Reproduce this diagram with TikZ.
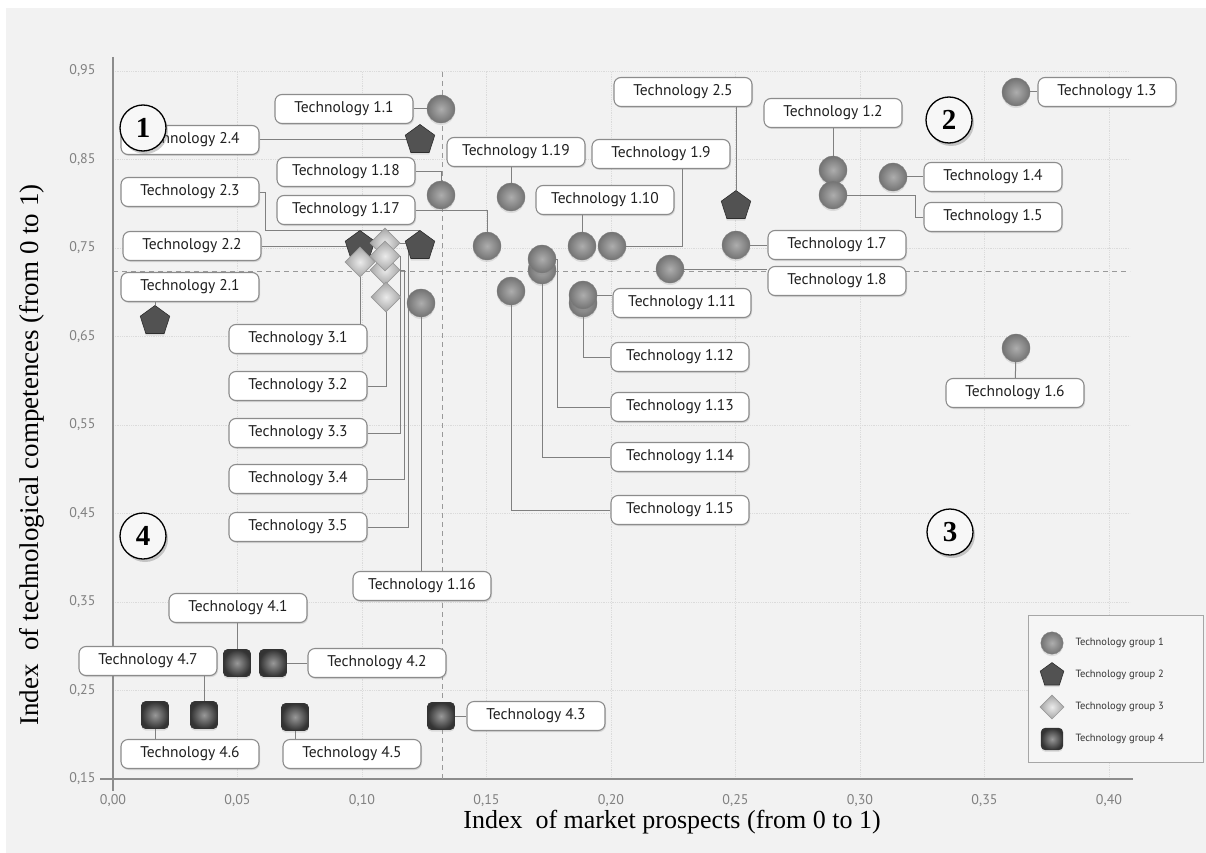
\documentclass[tikz,border=0pt]{standalone}
\usepackage{fontspec}
\setmainfont{Liberation Serif}
\newfontfamily\labelfont{PT Sans}
\usetikzlibrary{shapes.geometric,shadows,calc}
\pgfdeclarelayer{back}
\pgfdeclarelayer{wires}
\pgfsetlayers{back,wires,main}

\begin{document}
\begin{tikzpicture}[x=1pt,y=-1pt,
  tech/.style={draw=black!45,line width=1.1pt,fill=white,rounded corners=7pt,
    minimum width=138pt,minimum height=29pt,inner sep=0pt,text=black!88,
    font=\labelfont\fontsize{15.5}{15.5}\selectfont,
    drop shadow={opacity=.25,shadow xshift=1pt,shadow yshift=-1.5pt}},
  gA/.style={circle,minimum size=28pt,inner sep=0pt,inner color=black!32,
    outer color=black!55,draw=black!50,line width=.3pt,
    drop shadow={opacity=.2,shadow xshift=0pt,shadow yshift=-2pt}},
  gB/.style={regular polygon,regular polygon sides=5,minimum size=31pt,inner sep=0pt,
    fill=black!68,draw=black!82,line width=.6pt,
    drop shadow={opacity=.2,shadow xshift=0pt,shadow yshift=-2pt}},
  gC/.style={diamond,minimum size=30pt,inner sep=0pt,inner color=black!8,
    outer color=black!35,draw=black!40,line width=.6pt},
  gD/.style={rectangle,rounded corners=4pt,minimum size=27pt,inner sep=0pt,
    inner color=black!40,outer color=black!80,draw=black!80,line width=.6pt,
    drop shadow={opacity=.2,shadow xshift=0pt,shadow yshift=-2pt}},
  wire/.style={draw=black!50,line width=1pt},
  grid/.style={black!14,line width=.8pt,densely dotted},
  tick/.style={text=black!50,font=\labelfont\fontsize{14}{14}\selectfont},
  quad/.style={circle,draw,line width=1.3pt,fill=white!97!black,minimum size=46pt,
    inner sep=0pt,font=\bfseries\fontsize{29}{29}\selectfont,
    drop shadow={opacity=.4,shadow xshift=2pt,shadow yshift=-3pt}}]
 \useasboundingbox (0,0) rectangle (1206,853);
 \begin{pgfonlayer}{back}
 \fill[white] (0,0) rectangle (1206,853);
 \fill[black!5] (6,8) rectangle (1206,853);
 \foreach \k in {1,...,8}{
  \draw[grid] (113+124.5*\k,72)--(113+124.5*\k,779);
  \draw[grid] (113,779-88.5*\k)--(1130,779-88.5*\k);
 }
 \draw[black!45,line width=1.5pt] (113,57)--(113,791);
 \draw[black!45,line width=1.5pt] (100,779)--(1133,779);
 \draw[black!40,line width=1pt,dash pattern=on 5pt off 4pt] (442,72)--(442,779);
 \draw[black!40,line width=1pt,dash pattern=on 5pt off 4pt] (113,271)--(1130,271);
 \end{pgfonlayer}
 % axis numbers
 \foreach \k/\t in {0/{0,15},1/{0,25},2/{0,35},3/{0,45},4/{0,55},5/{0,65},6/{0,75},7/{0,85},8/{0,95}}
  \node[tick,anchor=east] (yl\k) at (99,779-88.5*\k) {\t};
 \foreach \k/\t in {0/{0,00},1/{0,05},2/{0,10},3/{0,15},4/{0,20},5/{0,25},6/{0,30},7/{0,35},8/{0,40}}
  \node[tick] (xl\k) at (113+124.5*\k,801) {\t};
 \node[font=\fontsize{26}{26}\selectfont] (xt) at (672,822)
   {Index\ \ of market prospects (from 0 to 1)};
 \node[font=\fontsize{27}{27}\selectfont,rotate=90] (yt) at (32,455)
   {Index\ \ of technological competences (from 0 to 1)};
 % labels
 \foreach \g/\n/\x/\y in {1/1/344/109,1/2/833/113,1/3/1107/92,1/4/993/177,1/5/993/217,
   1/6/1015/393,1/7/837/245,1/8/837/281,1/9/661/154,1/10/605/200,1/11/682/303,
   1/12/680/357,1/13/680/407,1/14/680/457,1/15/680/510,1/16/422/586,1/17/346/210,
   1/18/346/172,1/19/516/152,2/1/190/287,2/2/192/246,2/3/190/192,2/4/190/140,
   2/5/683/92,3/1/298/339,3/2/298/386,3/3/298/433,3/4/298/479,3/5/298/527,
   4/1/238/608,4/2/377/663,4/3/536/716,4/5/352/754,4/6/190/754,4/7/148/661}
  \node[tech] (b\g-\n) at (\x,\y) {Technology \g.\n};
 % markers
 \foreach \n/\x/\y in {1/441/109,2/833/170,3/1016/92,4/893/177,5/833/195,6/1016/348,
   7/736/245,8/670/269,9/612/246,10/582/246,12/583/303,11/583/295,14/542/270,
   13/542/259,15/511/291,16/421/303,17/487/246,18/441/195,19/511/197}
  \node[gA] (c1-\n) at (\x,\y) {};
 \foreach \n/\x/\y in {1/155/321,2/360/246,3/420/246,4/420/140,5/736/206}
  \node[gB] (p2-\n) at (\x,\y) {};
 \foreach \n/\x/\y in {5/385/243,4/385/270,3/385/256,1/360/262,2/386/297}
  \node[gC] (d3-\n) at (\x,\y) {};
 \foreach \n/\x/\y in {1/237/663,2/273/663,3/441/716,5/295/717,6/155/715,7/204/715}
  \node[gD] (s4-\n) at (\x,\y) {};
 \begin{pgfonlayer}{wires}
 \draw[wire] (b1-1)--(c1-1);
 \draw[wire] (b1-2)--(c1-2);
 \draw[wire] (c1-3)--(b1-3);
 \draw[wire] (c1-4)--(b1-4);
 \draw[wire] (c1-5)--++(82,0)|-(b1-5.west);
 \draw[wire] (c1-6)--(b1-6);
 \draw[wire] (c1-7)--(b1-7);
 \draw[wire] (c1-8)--(c1-8-|b1-8.west);
 \draw[wire] ([xshift=21pt]b1-9.south)|-(c1-9);
 \draw[wire] (b1-10.south-|c1-10)--(c1-10);
 \draw[wire] (c1-11)--(c1-11-|b1-11.west);
 \draw[wire] (c1-12)|-(b1-12.west);
 \draw[wire] (c1-13)--++(15,0)|-(b1-13.west);
 \draw[wire] (c1-14)|-(b1-14.west);
 \draw[wire] (c1-15)|-(b1-15.west);
 \draw[wire] (c1-16)--(c1-16|-b1-16.north);
 \draw[wire] (b1-17.east)-|(c1-17);
 \draw[wire] (b1-18.east)-|(c1-18);
 \draw[wire] (b1-19.south-|c1-19)--(c1-19);
 \draw[wire] (b2-1.south-|p2-1)--(p2-1);
 \draw[wire] (b2-2)--(p2-2);
 \draw[wire] (b2-3.east)--++(6,0)|-(p2-3.north);
 \draw[wire] (b2-4)--(p2-4);
 \draw[wire] ([xshift=53pt]b2-5.south)--(p2-5);
 \draw[wire] (d3-1)--(d3-1|-b3-1.north);
 \draw[wire] (b3-2.east)-|(d3-2);
 \draw[wire] (b3-3.east)-|([xshift=15pt]d3-3.center)--(d3-3);
 \draw[wire] (b3-4.east)-|([xshift=19pt]d3-4.center)--(d3-4);
 \draw[wire] (b3-5.east)-|([xshift=23pt]d3-5.center)--(d3-5);
 \draw[wire] (b4-1.south-|s4-1)--(s4-1);
 \draw[wire] (s4-2)--(b4-2);
 \draw[wire] (s4-3)--(b4-3);
 \draw[wire] (s4-5)--(s4-5|-b4-5.north);
 \draw[wire] (s4-6)--(s4-6|-b4-6.north);
 \draw[wire] (s4-7)--(s4-7|-b4-7.south);
 \end{pgfonlayer}
 % quadrants
 \node[quad] (q1) at (143,128) {1};
 \node[quad] (q2) at (949,120) {2};
 \node[quad] (q3) at (950,532) {3};
 \node[quad] (q4) at (143,536) {4};
 % legend
 \draw[black!35,line width=1pt,fill=black!4] (1028,615) rectangle (1203,762);
 \foreach \k/\s in {1/gA,2/gB,3/gC,4/gD}{
  \node[\s,scale=.8] (lm\k) at (1052,611+32*\k) {};
  \node[anchor=west,text=black!80,font=\labelfont\fontsize{10.5}{10.5}\selectfont]
    (lt\k) at (1072,611+32*\k) {Technology group \k};
 }
\end{tikzpicture}
\end{document}
